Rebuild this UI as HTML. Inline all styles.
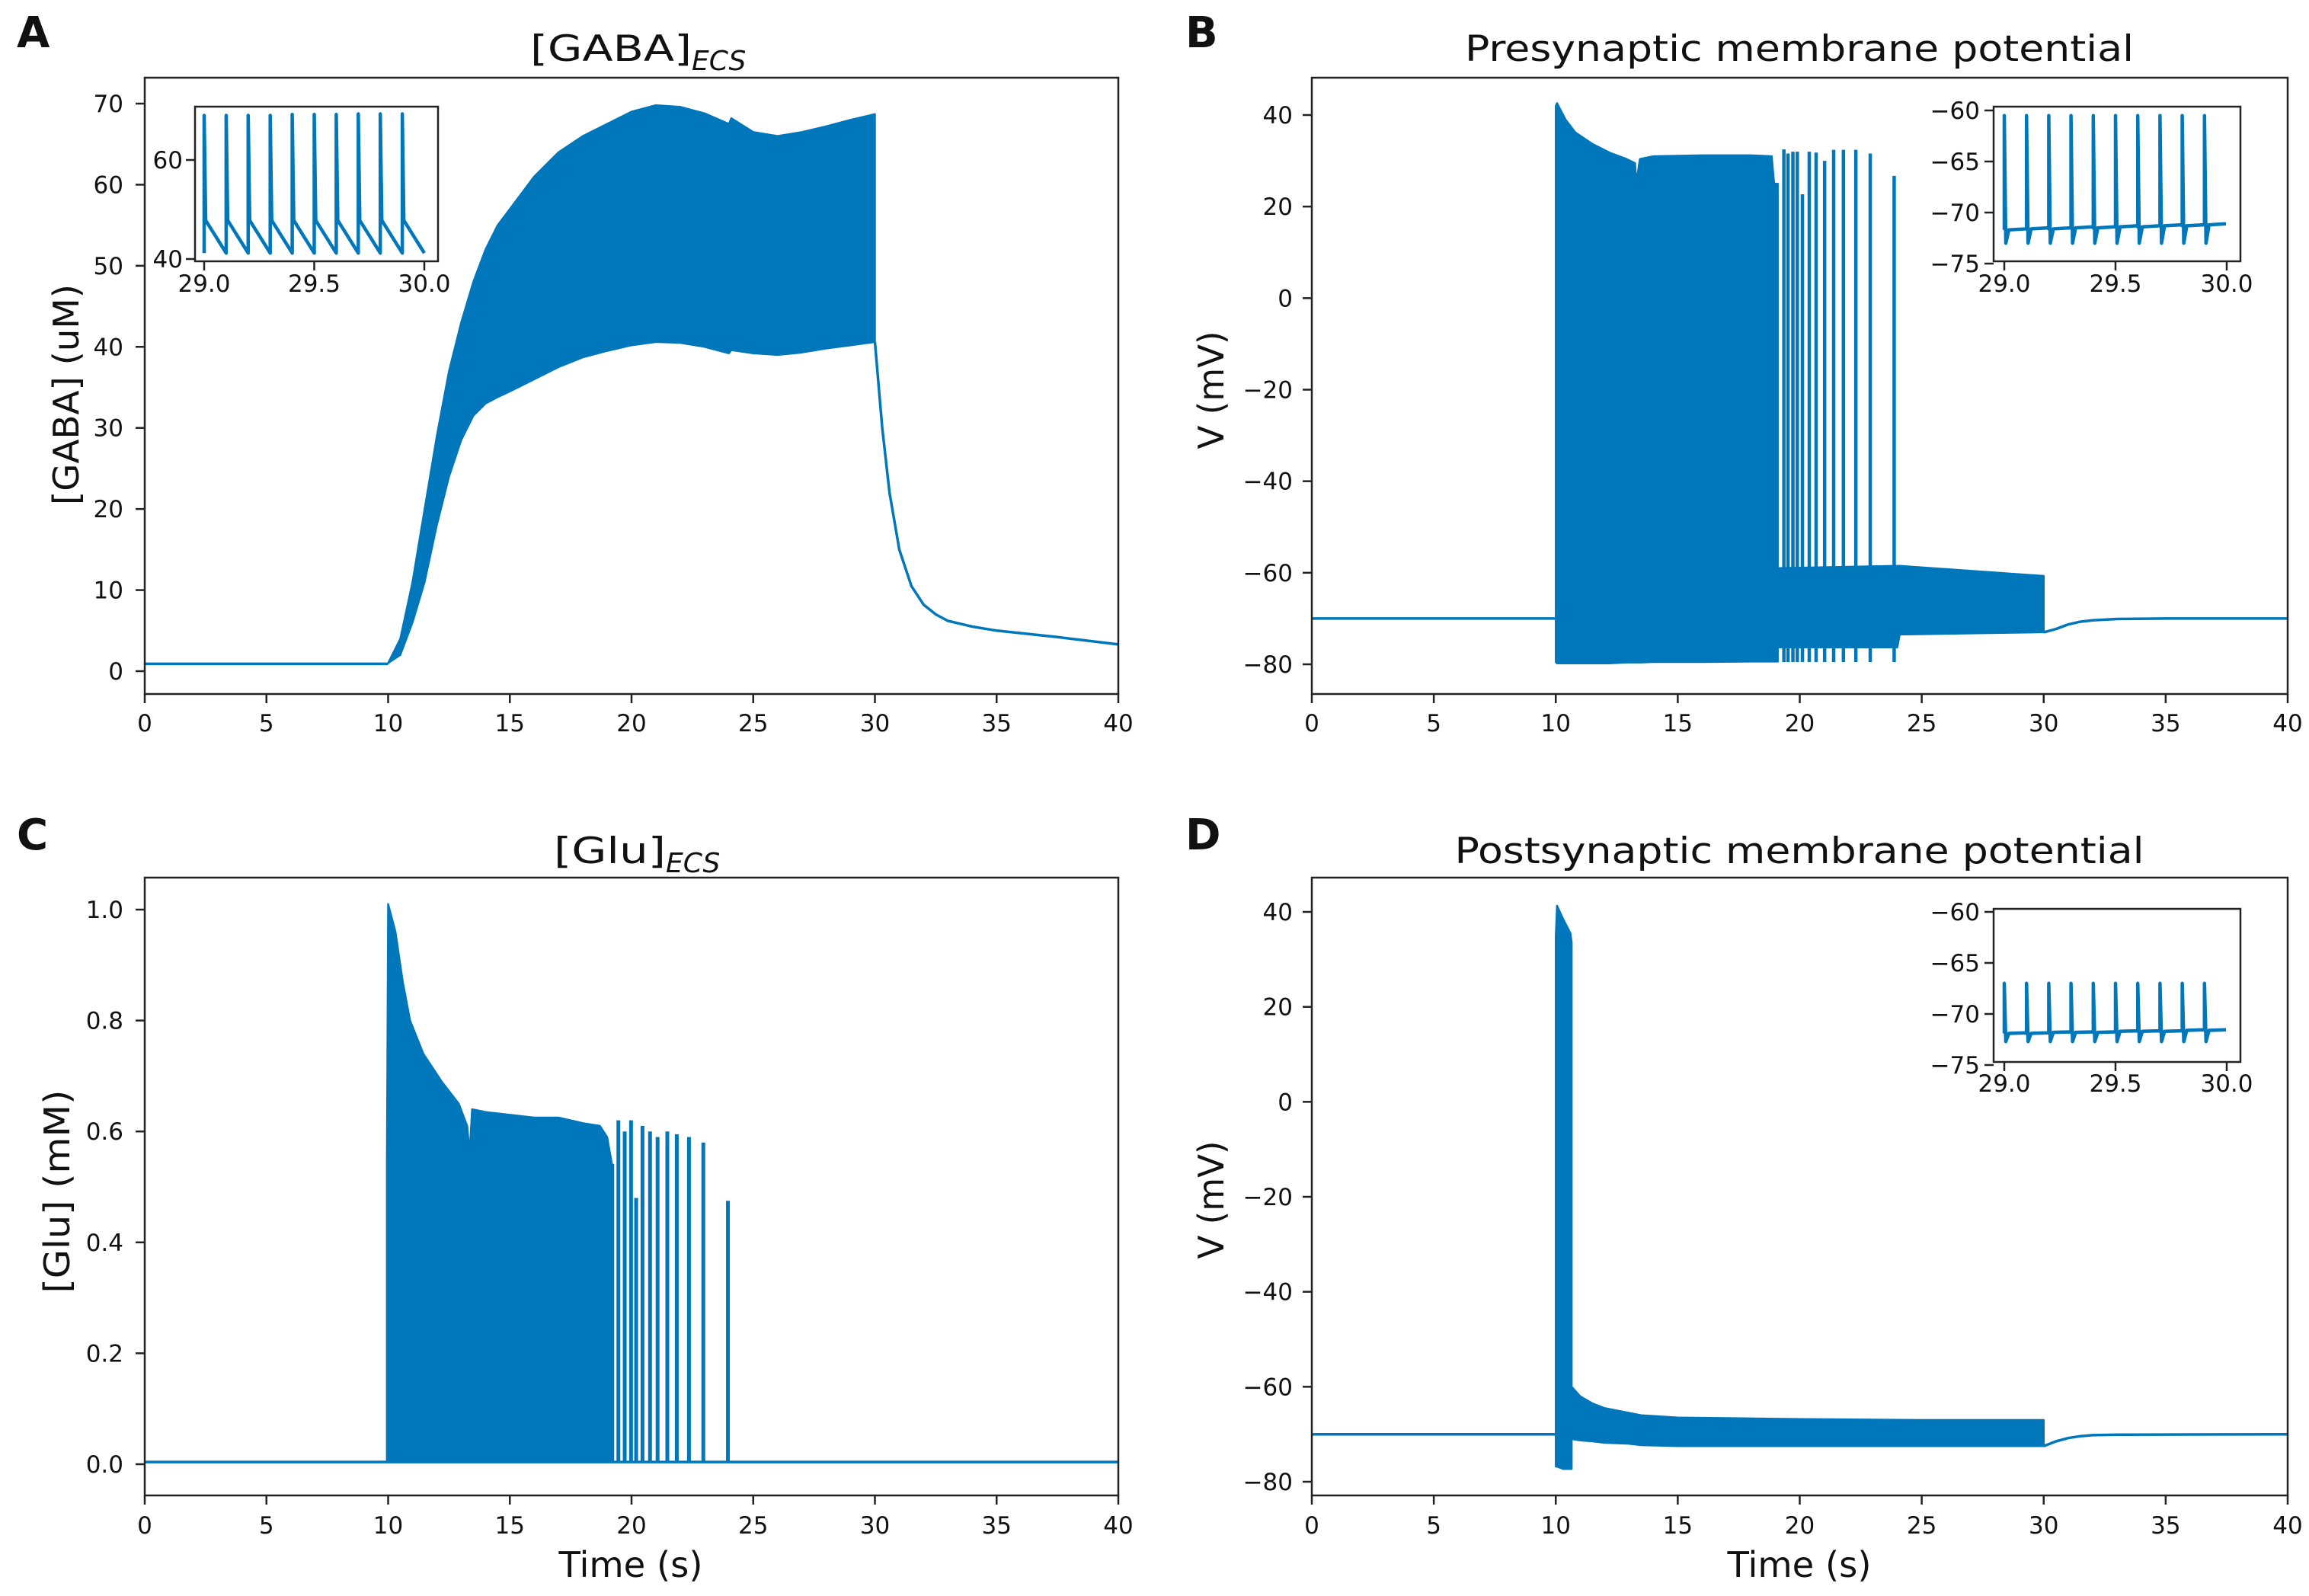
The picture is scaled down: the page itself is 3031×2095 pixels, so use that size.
<!DOCTYPE html>
<html><head><meta charset="utf-8"><style>
html,body{margin:0;padding:0;background:#fff}
svg{display:block}
text{font-family:"DejaVu Sans","Liberation Sans",sans-serif;fill:#111}
</style></head><body>
<svg id="fig" xmlns="http://www.w3.org/2000/svg" width="3031" height="2095" viewBox="0 0 3031 2095">
<rect x="0" y="0" width="3031" height="2095" fill="#fff"/>
<text x="22" y="62" font-size="56" font-weight="bold">A</text>
<text x="1556" y="62" font-size="56" font-weight="bold">B</text>
<text x="22" y="1115" font-size="56" font-weight="bold">C</text>
<text x="1556" y="1115" font-size="56" font-weight="bold">D</text>
<text x="696" y="80" font-size="47"><tspan textLength="212" lengthAdjust="spacingAndGlyphs">[GABA]</tspan><tspan font-size="36" font-style="italic" dy="12">ECS</tspan></text>
<text x="2362" y="80" font-size="47" text-anchor="middle" textLength="878" lengthAdjust="spacingAndGlyphs">Presynaptic membrane potential</text>
<text x="727" y="1133" font-size="47"><tspan textLength="147" lengthAdjust="spacingAndGlyphs">[Glu]</tspan><tspan font-size="36" font-style="italic" dy="12">ECS</tspan></text>
<text x="2362" y="1133" font-size="47" text-anchor="middle" textLength="905" lengthAdjust="spacingAndGlyphs">Postsynaptic membrane potential</text>
<text transform="translate(87,518) rotate(-90)" font-size="46" text-anchor="middle" dominant-baseline="central" textLength="290" lengthAdjust="spacingAndGlyphs">[GABA] (uM)</text>
<text transform="translate(1590,512) rotate(-90)" font-size="46" text-anchor="middle" dominant-baseline="central" textLength="155" lengthAdjust="spacingAndGlyphs">V (mV)</text>
<text transform="translate(75,1564) rotate(-90)" font-size="46" text-anchor="middle" dominant-baseline="central" textLength="267" lengthAdjust="spacingAndGlyphs">[Glu] (mM)</text>
<text transform="translate(1590,1575) rotate(-90)" font-size="46" text-anchor="middle" dominant-baseline="central" textLength="155" lengthAdjust="spacingAndGlyphs">V (mV)</text>
<text x="828" y="2070" font-size="46" text-anchor="middle" textLength="189" lengthAdjust="spacingAndGlyphs">Time (s)</text>
<text x="2362" y="2070" font-size="46" text-anchor="middle" textLength="189" lengthAdjust="spacingAndGlyphs">Time (s)</text>
</svg>
<script>
// ---- data ----
const xTicks=[0,5,10,15,20,25,30,35,40];
const yTicksA=[0,10,20,30,40,50,60,70];
const yTicksB=[40,20,0,-20,-40,-60,-80];
const yTicksC=[0.0,0.2,0.4,0.6,0.8,1.0];
const yTickLabelsC=["0.0","0.2","0.4","0.6","0.8","1.0"];
const yTicksD=[40,20,0,-20,-40,-60,-80];
const insetXTicks=[29.0,29.5,30.0];
const insetXTickLabels=["29.0","29.5","30.0"];
const insetYTicksA=[40,60];
const insetYTicksV=[-60,-65,-70,-75];

// Panel A: GABA
const gabaBaseT=[0,10];
const gabaBaseV=[0.9,0.9];
const gabaEnvT=[10,10.5,11,11.5,12,12.5,13,13.5,14,14.5,15,16,17,18,19,20,21,22,23,24,24.1,25,26,27,28,29,30];
const gabaUpper=[1,4,11,20,29,37,43,48,52,55,57,61,64,66,67.5,69,69.8,69.6,68.8,67.5,68.2,66.5,66,66.5,67.2,68,68.7];
const gabaLower=[1,2,6,11,18,24,28.5,31.5,33,33.8,34.5,36,37.5,38.7,39.5,40.2,40.6,40.5,40,39.2,39.6,39.2,39,39.3,39.8,40.2,40.6];
const gabaDecayT=[30,30.3,30.6,31,31.5,32,32.5,33,34,35,37.5,40];
const gabaDecayV=[40.6,30,22,15,10.5,8.2,7,6.2,5.5,5.0,4.2,3.3];
const gabaInsetSpikeT=[29.0,29.1,29.2,29.3,29.4,29.5,29.6,29.7,29.8,29.9];
const gabaInsetPeak=[69,69,69,69,69.2,69.2,69.2,69.3,69.3,69.3];
const gabaInsetPost=[47.8,47.8,47.8,47.8,47.8,47.8,47.8,47.8,47.8,47.8];
const gabaInsetTrough=[41.2,41.2,41.2,41.2,41.2,41.2,41.2,41.2,41.2,41.2];

// Panel B: presynaptic V
const preBaseT=[0,10];
const preBaseV=[-70,-70];
const preDenseT=[10.0,10.05,10.4,10.8,11.5,12.2,12.9,13.25,13.3,13.45,14,16,18,18.85,18.95,19.1];
const preDenseUpper=[42,42.6,39,36.2,33.7,31.8,30.4,29.5,25.2,30.4,31,31.2,31.2,31,25,25];
const preDenseLower=[-79.5,-79.8,-79.8,-79.8,-79.8,-79.8,-79.6,-79.6,-79.6,-79.6,-79.5,-79.5,-79.4,-79.4,-79.4,-79.4];
const preSpikeT=[19.35,19.52,19.72,19.90,20.11,20.39,20.67,21.02,21.39,21.79,22.30,22.89,23.87];
const preSpikePeak=[32.5,31.6,32.0,32.0,22.7,32.0,31.8,30.0,32.4,32.4,32.4,31.6,26.7];
const preBandT=[19.1,24,24.1,30];
const preBandUpper=[-59,-58.5,-58.5,-60.7];
const preBandLower=[-76.3,-76.3,-73.5,-73];
const preRecT=[30,30.5,31,31.5,32,33,35,40];
const preRecV=[-73,-72.3,-71.3,-70.7,-70.4,-70.1,-70,-70];
const preInsetSpikeT=[29.0,29.1,29.2,29.3,29.4,29.5,29.6,29.7,29.8,29.9];
const preInsetPeak=[-60.5,-60.5,-60.5,-60.5,-60.5,-60.5,-60.5,-60.5,-60.5,-60.5];
const preInsetBase=[-71.7,-71.6,-71.6,-71.5,-71.5,-71.4,-71.4,-71.3,-71.3,-71.2];
const preInsetDip=[-73.0,-73.0,-73.0,-73.0,-73.0,-73.0,-73.0,-73.0,-73.0,-73.0];

// Panel C: glutamate
const gluBaseT=[0,40];
const gluBaseV=[0.004,0.004];
const gluDenseT=[9.95,10.0,10.3,10.6,10.9,11.45,12.2,12.9,13.25,13.35,13.45,14,15,16,17,18,18.7,19.0,19.2,19.25];
const gluDenseUpper=[0.545,1.01,0.96,0.87,0.80,0.74,0.69,0.65,0.61,0.56,0.64,0.635,0.63,0.625,0.625,0.615,0.61,0.59,0.54,0.54];
const gluSpikeT=[19.46,19.72,19.98,20.19,20.45,20.76,21.07,21.47,21.86,22.36,22.95,23.96];
const gluSpikePeak=[0.62,0.60,0.62,0.48,0.61,0.60,0.59,0.60,0.595,0.59,0.58,0.475];

// Panel D: postsynaptic V
const postBaseT=[0,10];
const postBaseV=[-70,-70];
const postDenseT=[10.0,10.05,10.3,10.6,10.65];
const postDenseUpper=[35,41.3,38.5,35.5,33.5];
const postDenseLower=[-76.8,-76.8,-77.3,-77.3,-77.3];
const postBandT=[10.65,11,11.5,12,13,13.5,15,20,25,30];
const postBandUpper=[-60,-62,-63.5,-64.5,-65.5,-66,-66.5,-66.8,-67,-67];
const postBandLower=[-71,-71.3,-71.5,-71.8,-72,-72.3,-72.5,-72.5,-72.5,-72.5];
const postRecT=[30,30.5,31,31.5,32,33,40];
const postRecV=[-72.5,-71.5,-70.8,-70.4,-70.2,-70.1,-70];
const postInsetSpikeT=[29.0,29.1,29.2,29.3,29.4,29.5,29.6,29.7,29.8,29.9];
const postInsetPeak=[-67,-67,-67,-67,-67,-67,-67,-67,-67,-67];
const postInsetBase=[-71.9,-71.9,-71.8,-71.8,-71.8,-71.7,-71.7,-71.7,-71.6,-71.6];
const postInsetDip=[-72.7,-72.7,-72.7,-72.7,-72.7,-72.7,-72.7,-72.7,-72.7,-72.7];

// ---- drawing ----
const NS='http://www.w3.org/2000/svg';
const svg=document.getElementById('fig');
const BLUE='#0177bb';
function mk(tag,attrs,parent){const e=document.createElementNS(NS,tag);for(const k in attrs)e.setAttribute(k,attrs[k]);(parent||svg).appendChild(e);return e;}
function lin(d0,d1,p0,p1){return v=>p0+(v-d0)*(p1-p0)/(d1-d0);}

function axes(key,x0,x1,y0,y1,sx,sy,yt,ytl,xt,xtl,tickFs,labOff,xLabBase){
  const g=mk('g',{});
  
  
  yt.forEach((v,i)=>{
    const y=sy(v);
    const t=mk('line',{x1:x0-12,x2:x0,y1:y,y2:y,stroke:'#222','stroke-width':2.5},g);
    
    
    const l=mk('text',{x:x0-labOff,y:y+11,'font-size':tickFs,'text-anchor':'end'},g);
    
    
    l.textContent=ytl?ytl[i]:String(v).replace('-','\u2212');
  });
  xt.forEach((v,i)=>{
    const x=sx(v);
    const t=mk('line',{x1:x,x2:x,y1:y1,y2:y1+12,stroke:'#222','stroke-width':2.5},g);
    
    
    const l=mk('text',{x:x,y:xLabBase,'font-size':tickFs,'text-anchor':'middle'},g);
    
    
    l.textContent=xtl?xtl[i]:String(v);
  });
  return g;
}
function frame(key,x0,x1,y0,y1,fill){
  const r=mk('rect',{x:x0,y:y0,width:x1-x0,height:y1-y0,fill:fill||'none',stroke:'#222','stroke-width':2.5});
  
  
  return r;
}
function pathLine(T,V,sx,sy,w,name){
  const d=T.map((t,i)=>(i?'L':'M')+sx(t).toFixed(1)+' '+sy(V[i]).toFixed(1)).join(' ');
  const p=mk('path',{d:d,fill:'none',stroke:BLUE,'stroke-width':w,'stroke-linejoin':'round'});
  
  
  return p;
}
function band(T,U,L,sx,sy,name){
  let d=T.map((t,i)=>(i?'L':'M')+sx(t).toFixed(1)+' '+sy(U[i]).toFixed(1)).join(' ');
  for(let i=T.length-1;i>=0;i--)d+=' L'+sx(T[i]).toFixed(1)+' '+sy(L[i]).toFixed(1);
  d+=' Z';
  const p=mk('path',{d:d,fill:BLUE,stroke:BLUE,'stroke-width':2.5,'stroke-linejoin':'round'});
  
  
  return p;
}
function spikes(T,P,low,sx,sy,w,name){
  T.forEach((t,i)=>{
    const l=mk('line',{x1:sx(t),x2:sx(t),y1:sy(low),y2:sy(P[i]),stroke:BLUE,'stroke-width':w});
    
    
  });
}

// Panel A
(function(){
  const sx=lin(0,40,190,1468), sy=lin(0,70,881,136);
  pathLine(gabaBaseT,gabaBaseV,sx,sy,3.5,'gaba-baseline');
  band(gabaEnvT,gabaUpper,gabaLower,sx,sy,'gaba-oscillation-band');
  pathLine(gabaDecayT,gabaDecayV,sx,sy,3.5,'gaba-decay-line');
  frame('a',190,1468,102,911);
  axes('a',190,1468,102,911,sx,sy,yTicksA,null,xTicks,null,31,28,960);
  // inset
  const ix=lin(29,30,268,557), iy=lin(40,60,340,210);
  frame('inset-a',256,575,140,343,'#fff');
  let d='';
  gabaInsetSpikeT.forEach((t,i)=>{
    const tn=i<gabaInsetSpikeT.length-1?gabaInsetSpikeT[i+1]:30.0;
    d+=(i?' L':'M')+ix(t)+' '+iy(gabaInsetTrough[i])+' L'+ix(t)+' '+iy(gabaInsetPeak[i])+' L'+(ix(t)+2)+' '+iy(gabaInsetPost[i])+' L'+ix(tn)+' '+iy(gabaInsetTrough[i]);
  });
  const p=mk('path',{d:d,fill:'none',stroke:BLUE,'stroke-width':4.5,'stroke-linejoin':'round'});
  
  
  axes('inset-a',256,575,140,343,ix,iy,insetYTicksA,null,insetXTicks,insetXTickLabels,31,16,383);
})();

// Panel B
(function(){
  const sx=lin(0,40,1722,3003), sy=lin(-80,40,872,151);
  pathLine(preBaseT,preBaseV,sx,sy,3.5,'pre-baseline');
  band(preBandT,preBandUpper,preBandLower,sx,sy,'pre-subthreshold-band');
  band(preDenseT,preDenseUpper,preDenseLower,sx,sy,'pre-dense-spikes');
  spikes(preSpikeT,preSpikePeak,-79.5,sx,sy,4.5,'pre-spike');
  pathLine(preRecT,preRecV,sx,sy,3.5,'pre-recovery-line');
  frame('b',1722,3003,102,911);
  axes('b',1722,3003,102,911,sx,sy,yTicksB,null,xTicks,null,31,25,960);
  const ix=lin(29,30,2631,2923), iy=lin(-75,-60,346,145);
  frame('inset-b',2617,2941,140,343,'#fff');
  let d='';
  preInsetSpikeT.forEach((t,i)=>{
    const tn=i<preInsetSpikeT.length-1?preInsetSpikeT[i+1]:30.0;
    d+=(i?' L':'M')+ix(t)+' '+iy(preInsetBase[i])+' L'+ix(t)+' '+iy(preInsetPeak[i])+' L'+(ix(t)+2)+' '+iy(preInsetDip[i])+' L'+(ix(t)+6)+' '+iy(preInsetBase[i])+' L'+(ix(tn)-1)+' '+iy(preInsetBase[i]+0.1);
  });
  const p=mk('path',{d:d,fill:'none',stroke:BLUE,'stroke-width':4.5,'stroke-linejoin':'round'});
  
  
  axes('inset-b',2617,2941,140,343,ix,iy,insetYTicksV,null,insetXTicks,insetXTickLabels,31,18,383);
})();

// Panel C
(function(){
  const sx=lin(0,40,190,1468), sy=lin(0,1,1922,1194);
  pathLine(gluBaseT,gluBaseV,sx,sy,3.5,'glu-baseline');
  const low=gluDenseT.map(()=>0.004);
  band(gluDenseT,gluDenseUpper,low,sx,sy,'glu-dense-release');
  spikes(gluSpikeT,gluSpikePeak,0.004,sx,sy,5,'glu-spike');
  frame('c',190,1468,1152,1963);
  axes('c',190,1468,1152,1963,sx,sy,yTicksC,yTickLabelsC,xTicks,null,31,28,2013);
})();

// Panel D
(function(){
  const sx=lin(0,40,1722,3003), sy=lin(-80,40,1945,1197);
  pathLine(postBaseT,postBaseV,sx,sy,3.5,'post-baseline');
  band(postBandT,postBandUpper,postBandLower,sx,sy,'post-subthreshold-band');
  band(postDenseT,postDenseUpper,postDenseLower,sx,sy,'post-dense-spikes');
  pathLine(postRecT,postRecV,sx,sy,3.5,'post-recovery-line');
  frame('d',1722,3003,1152,1963);
  axes('d',1722,3003,1152,1963,sx,sy,yTicksD,null,xTicks,null,31,25,2013);
  const ix=lin(29,30,2631,2923), iy=lin(-75,-60,1398,1197);
  frame('inset-d',2617,2941,1193,1394,'#fff');
  let d='';
  postInsetSpikeT.forEach((t,i)=>{
    const tn=i<postInsetSpikeT.length-1?postInsetSpikeT[i+1]:30.0;
    d+=(i?' L':'M')+ix(t)+' '+iy(postInsetBase[i])+' L'+ix(t)+' '+iy(postInsetPeak[i])+' L'+(ix(t)+2)+' '+iy(postInsetDip[i])+' L'+(ix(t)+6)+' '+iy(postInsetBase[i])+' L'+(ix(tn)-1)+' '+iy(postInsetBase[i]+0.05);
  });
  const p=mk('path',{d:d,fill:'none',stroke:BLUE,'stroke-width':4.5,'stroke-linejoin':'round'});
  
  
  axes('inset-d',2617,2941,1193,1394,ix,iy,insetYTicksV,null,insetXTicks,insetXTickLabels,31,18,1433);
})();
</script>
</body></html>
